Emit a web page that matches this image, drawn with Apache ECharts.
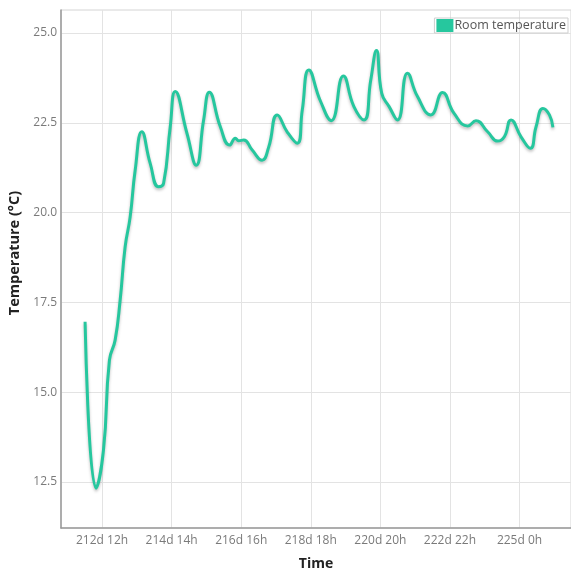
<!DOCTYPE html>
<html>
<head>
<meta charset="utf-8">
<script src="https://cdn.jsdelivr.net/npm/echarts@6/dist/echarts.min.js"></script>
<style>
html,body{margin:0;padding:0;background:#fff;}
#chart{width:571px;height:569px;}
</style>
</head>
<body>
<div id="chart"></div>
<script>
// Time in hours since day 0 (e.g. 212d 12h = 5100 h)
const timeHours = [5087.8, 5095.7, 5101, 5105.3, 5109.4, 5113, 5116.6, 5120.2, 5123.8, 5128.6,
  5134.6, 5140.6, 5144.2, 5149, 5152.6, 5161, 5167.7, 5173, 5177.1, 5185,
  5191.7, 5195.8, 5198.2, 5201.8, 5207.9, 5215, 5219.8, 5225.9, 5233, 5240.3,
  5243.9, 5248.6, 5257, 5264.7, 5273.4, 5281, 5288.3, 5293.1, 5297.2, 5301,
  5306.3, 5312.3, 5319.5, 5326.7, 5336.3, 5344.7, 5353, 5362.8, 5368.7, 5377.1,
  5384.4, 5389.1, 5393.9, 5401.1, 5407.8, 5411.9, 5416.8, 5421.5, 5424];
const roomTemperature = [16.96, 12.33, 13.38, 15.89, 16.45, 17.56, 19.05, 19.88, 21.18, 22.25,
  21.37, 20.72, 20.81, 22.39, 23.37, 22.21, 21.32, 22.58, 23.35, 22.39,
  21.88, 22.07, 22.0, 22.02, 21.74, 21.46, 21.83, 22.72, 22.25, 21.93,
  22.86, 23.97, 23.1, 22.56, 23.8, 22.95, 22.58, 23.69, 24.51, 23.32,
  22.95, 22.58, 23.88, 23.23, 22.72, 23.34, 22.76, 22.41, 22.56, 22.25,
  21.99, 22.11, 22.58, 22.11, 21.79, 22.39, 22.9, 22.72, 22.37];
const xTickValues = [5100, 5150, 5200, 5250, 5300, 5350, 5400];
const yTickValues = [12.5, 15.0, 17.5, 20.0, 22.5, 25.0];

const seriesData = timeHours.map((t, i) => [t, roomTemperature[i]]);
const fmtTime = h => Math.floor(h / 24) + 'd ' + Math.round(h % 24) + 'h';
const FONT = '"Open Sans", "Noto Sans", sans-serif';

const chart = echarts.init(document.getElementById('chart'), null, {renderer: 'canvas'});
chart.setOption({
  animation: false,
  backgroundColor: '#fff',
  grid: {left: 61, right: 0, top: 10, bottom: 41, containLabel: false, outerBoundsMode: 'none',
    show: true, borderColor: '#d4d4d4', borderWidth: 1},
  legend: {
    show: true,
    right: 3, top: 18,
    icon: 'rect', itemWidth: 17, itemHeight: 13, itemGap: 2,
    borderColor: '#cfcfcf', borderWidth: 1, padding: [1, 2, 1, 2],
    textStyle: {fontFamily: FONT, fontSize: 12.5, color: '#555', padding: [0, 0, 0, -4]},
    data: ['Room temperature']
  },
  xAxis: {
    type: 'value',
    min: 5070.5, max: 5437,
    name: 'Time', nameLocation: 'middle', nameGap: 29,
    nameTextStyle: {fontFamily: FONT, fontSize: 14, fontWeight: 'bold', color: '#222'},
    axisLine: {show: true, lineStyle: {color: '#999', width: 1.5}},
    axisTick: {show: false, customValues: xTickValues},
    axisLabel: {customValues: xTickValues, formatter: v => fmtTime(v), margin: 7,
      fontFamily: FONT, fontSize: 12, color: '#7a7a7a'},
    splitLine: {show: true, lineStyle: {color: '#e3e3e3', width: 1}}
  },
  yAxis: {
    type: 'value',
    min: 11.22, max: 25.64,
    name: 'Temperature (°C)', nameLocation: 'middle', nameGap: 39,
    nameTextStyle: {fontFamily: FONT, fontSize: 14.5, fontWeight: 'bold', color: '#222', padding: [0, 0, 0, 32]},
    axisLine: {show: true, lineStyle: {color: '#999', width: 1.5}},
    axisTick: {show: false, customValues: yTickValues},
    axisLabel: {customValues: yTickValues, formatter: v => v.toFixed(1), margin: 4,
      fontFamily: FONT, fontSize: 12, color: '#7a7a7a'},
    splitLine: {show: true, lineStyle: {color: '#e3e3e3', width: 1}}
  },
  series: [{
    name: 'Room temperature',
    type: 'line',
    data: seriesData,
    smooth: 0.5,
    showSymbol: false,
    symbol: 'none',
    color: '#26c79e',
    lineStyle: {color: '#26c79e', width: 3, shadowColor: 'rgba(0,0,0,0.25)', shadowBlur: 3, shadowOffsetY: 2}
  }]
});
</script>
</body>
</html>
